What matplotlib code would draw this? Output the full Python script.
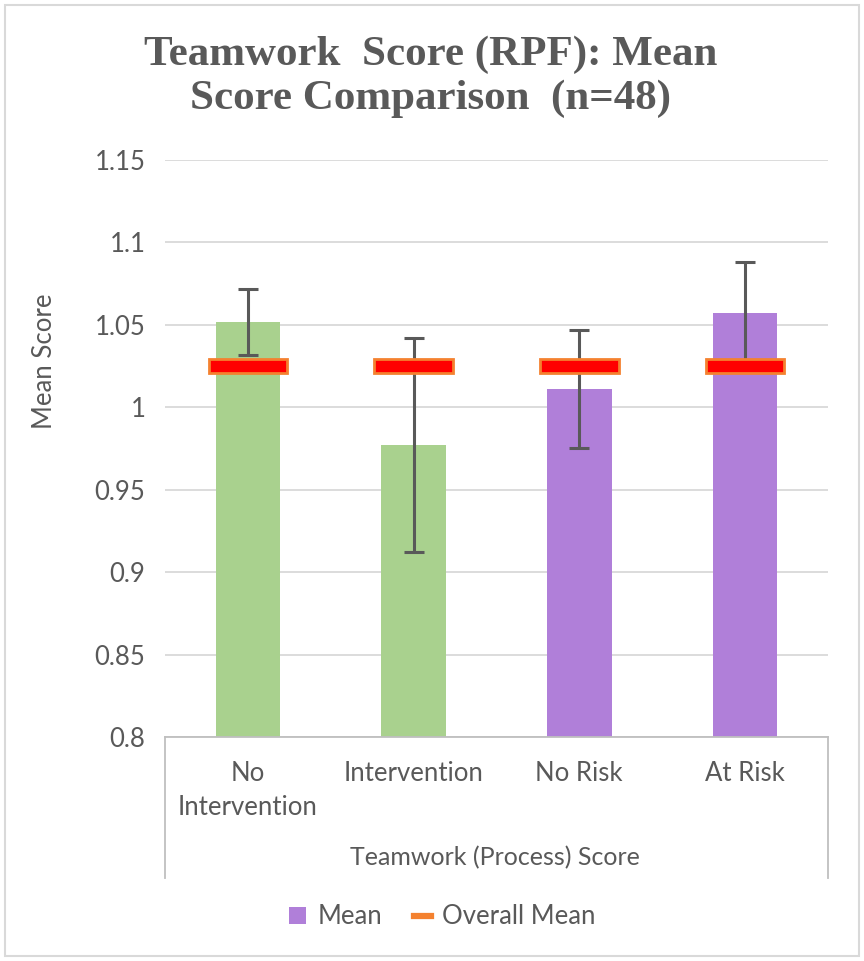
import numpy as np
import matplotlib
matplotlib.use("Agg")
import matplotlib.pyplot as plt
from matplotlib.patches import Patch, Rectangle
from matplotlib.lines import Line2D

categories = ["No\nIntervention", "Intervention", "No Risk", "At Risk"]
means = [1.052, 0.977, 1.011, 1.057]
errors = [0.020, 0.065, 0.036, 0.031]
overall_mean = 1.025
bar_colors = ["#A9D18E", "#A9D18E", "#B07FD9", "#B07FD9"]
y_ticks = [0.8, 0.85, 0.9, 0.95, 1.0, 1.05, 1.1, 1.15]
y_tick_labels = ["0.8", "0.85", "0.9", "0.95", "1", "1.05", "1.1", "1.15"]

GRAY = "#595959"
plt.rcParams["font.family"] = ["Lato", "DejaVu Sans"]

fig = plt.figure(figsize=(8.64, 9.61), dpi=100)
ax = fig.add_axes([0.191, 0.2331, 0.767, 0.6004])

x = np.arange(len(categories))
ax.bar(x, means, width=0.39, color=bar_colors, zorder=2)
ax.errorbar(x, means, yerr=errors, fmt="none", ecolor=GRAY, elinewidth=2.2,
            capsize=7, capthick=2.2, zorder=3)
# overall mean marker drawn as a short wide bar per category
ax.bar(x, 0.0085, bottom=overall_mean - 0.00425, width=0.475, color="#FF0000",
       edgecolor="#F4812F", linewidth=2, zorder=4)

ax.set_xlim(-0.5, len(categories) - 0.5)
ax.set_ylim(0.8, 1.15)
ax.set_yticks(y_ticks)
ax.set_yticklabels(y_tick_labels)
ax.set_xticks(x)
ax.set_xticklabels(categories, linespacing=1.45)
ax.tick_params(axis="both", length=0, labelsize=18.5, labelcolor=GRAY)
ax.tick_params(axis="x", pad=17)
ax.tick_params(axis="y", pad=14)
ax.grid(axis="y", color="#D9D9D9", linewidth=1.3, zorder=0)
for s in ["top", "right", "left"]:
    ax.spines[s].set_visible(False)
ax.spines["bottom"].set_color("#BFBFBF")
ax.spines["bottom"].set_linewidth(1.3)

# category group box below the axis
for xa in (0.0, 1.0):
    ax.add_line(Line2D([xa, xa], [0, -0.245], transform=ax.transAxes,
                       color="#BFBFBF", linewidth=1.3, clip_on=False))

ax.set_ylabel("Mean Score", fontsize=18.5, color=GRAY)
ax.yaxis.set_label_coords(-0.163, 0.652)

fig.text(0.573, 1 - 858 / 961, "Teamwork (Process) Score", ha="center", va="center",
         fontsize=18, color=GRAY)

fig.text(0.498, 1 - 77 / 961, "Teamwork  Score (RPF): Mean\nScore Comparison  (n=48)",
         ha="center", va="center", fontsize=31, fontweight="bold", color=GRAY,
         family=["Liberation Serif"], linespacing=1.2)

handles = [Patch(facecolor="#B07FD9", edgecolor="none"),
           Line2D([0], [0], color="#F4812F", linewidth=4.5)]
fig.legend(handles, ["Mean", "Overall Mean"], loc="center", ncol=2,
           bbox_to_anchor=(0.512, 1 - 917 / 961), frameon=False, fontsize=18.5,
           labelcolor=GRAY, handlelength=0.65, handleheight=0.65, handletextpad=0.45,
           columnspacing=1.25)

fig.add_artist(Rectangle((0.006, 0.005), 0.988, 0.99, transform=fig.transFigure,
                         fill=False, edgecolor="#D9D9D9", linewidth=1.5))

fig.savefig("out.png", dpi=100)
